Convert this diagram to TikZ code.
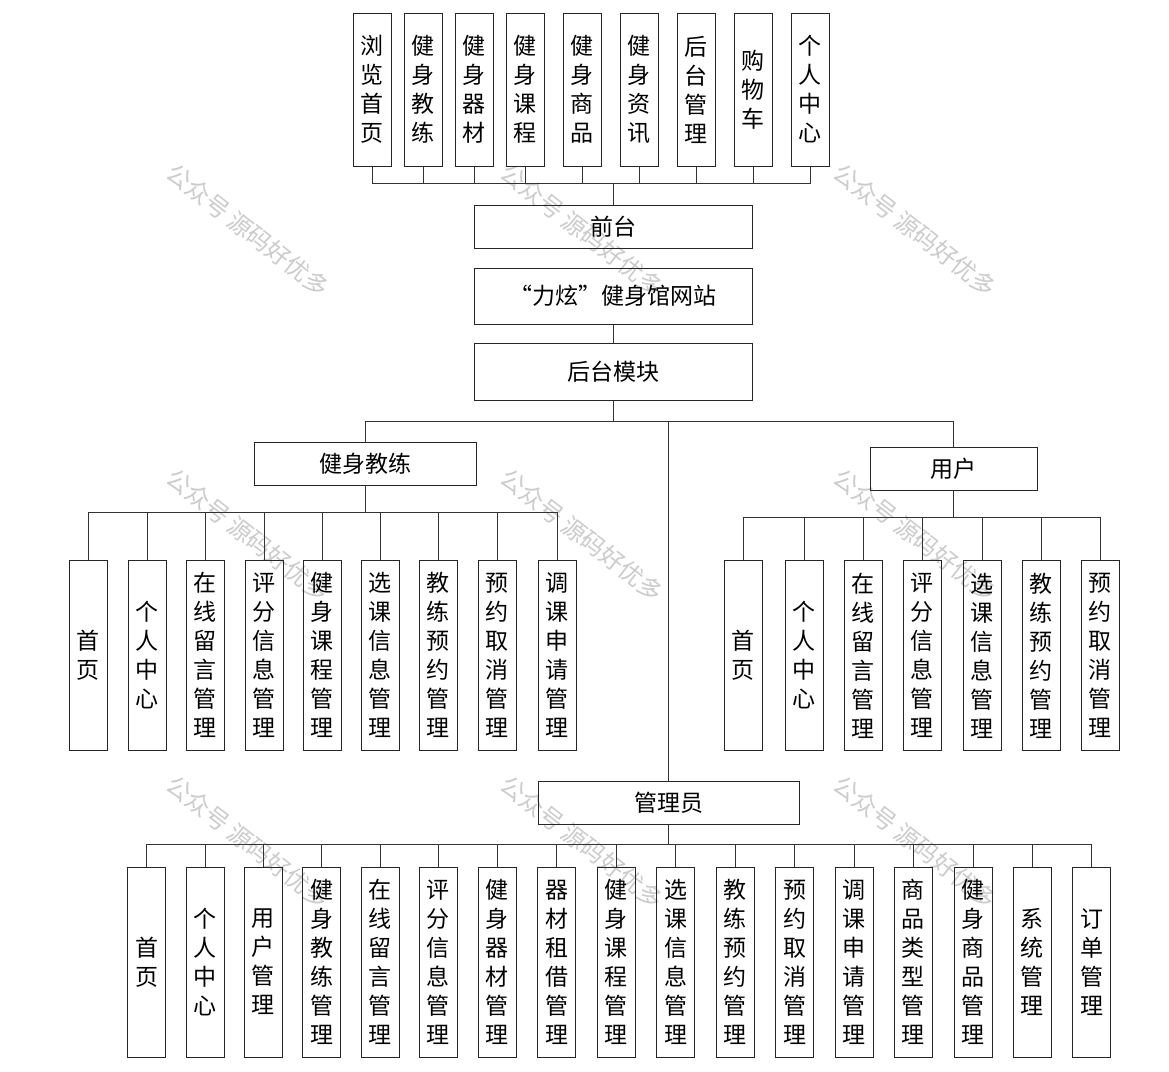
\documentclass[tikz,border=0pt]{standalone}
\usepackage{fontspec}
\newfontfamily\cjk{Noto Sans CJK SC}
\begin{document}
\begin{tikzpicture}[x=1pt,y=-1pt,
  every node/.style={font=\cjk\fontsize{23}{29}\selectfont, inner sep=0pt},
  hbox/.style={draw=black!85, line width=1pt, align=center},
  vbox/.style={draw=black!85, line width=1pt, align=center, minimum width=38pt},
  conn/.style={draw=black!80, line width=1pt},
  wm/.style={text=black!20, rotate=-38, font=\cjk\fontsize{24}{26}\selectfont}]
\useasboundingbox (0,0) rectangle (1169,1071);
\fill[white] (0,0) rectangle (1169,1071);
% watermarks
\foreach \wx in {248,582,915}{
  \foreach \wy in {230,535,842}{
    \node[wm] at (\wx,\wy) {公众号 源码好优多};
  }
}
% top level
\node[hbox, minimum width=278pt, minimum height=43pt] (qt) at (613,226.5) {前台};
\node[hbox, minimum width=278pt, minimum height=56pt] (site) at (613,296) {“力炫”健身馆网站};
\node[hbox, minimum width=278pt, minimum height=57pt] (bk) at (613,371.5) {后台模块};
% front children
\foreach \n/\x/\t in {t1/372/浏\\览\\首\\页, t2/423/健\\身\\教\\练, t3/474/健\\身\\器\\材, t4/525/健\\身\\课\\程, t5/582/健\\身\\商\\品, t6/639/健\\身\\资\\讯, t7/696/后\\台\\管\\理, t8/753/购\\物\\车, t9/810/个\\人\\中\\心}{
  \node[vbox, minimum height=153pt] (\n) at (\x,89.5) {\t};
}
\coordinate (topbus) at (613,183);
\foreach \n in {t1,t2,t3,t4,t5,t6,t7,t8,t9}{
  \draw[conn] (\n.south) |- (topbus);
}
\draw[conn] (topbus) -- (qt.north);
\draw[conn] (site.south) -- (bk.north);
% second level
\node[hbox, minimum width=222pt, minimum height=43pt] (coach) at (365,463.5) {健身教练};
\node[hbox, minimum width=167pt, minimum height=43pt] (user) at (953.5,468.5) {用户};
\node[hbox, minimum width=261pt, minimum height=43pt] (admin) at (668.5,802.5) {管理员};
\coordinate (mb) at (613,421);
\draw[conn] (bk.south) -- (mb);
\draw[conn] (coach.north) |- (mb);
\draw[conn] (user.north) |- (mb);
\draw[conn] (admin.north) -- (admin.north |- mb);
% coach children
\coordinate (cbus) at (365,512);
\foreach \n/\x/\t in {c1/88/首\\页, c2/147/个\\人\\中\\心, c3/205/在\\线\\留\\言\\管\\理, c4/264/评\\分\\信\\息\\管\\理, c5/322/健\\身\\课\\程\\管\\理, c6/380/选\\课\\信\\息\\管\\理, c7/438/教\\练\\预\\约\\管\\理, c8/497/预\\约\\取\\消\\管\\理, c9/557/调\\课\\申\\请\\管\\理}{
  \node[vbox, minimum height=190pt] (\n) at (\x,655) {\t};
  \draw[conn] (\n.north) |- (cbus);
}
\draw[conn] (coach.south) -- (cbus);
% user children
\coordinate (ubus) at (953.5,517);
\foreach \n/\x/\t in {u1/743/首\\页, u2/804/个\\人\\中\\心, u3/863/在\\线\\留\\言\\管\\理, u4/922/评\\分\\信\\息\\管\\理, u5/982/选\\课\\信\\息\\管\\理, u6/1041/教\\练\\预\\约\\管\\理, u7/1100/预\\约\\取\\消\\管\\理}{
  \node[vbox, minimum height=190pt] (\n) at (\x,655.5) {\t};
  \draw[conn] (\n.north) |- (ubus);
}
\draw[conn] (user.south) -- (ubus);
% admin children
\coordinate (abus) at (668.5,844);
\foreach \n/\x/\t in {a1/146.5/首\\页, a2/205/个\\人\\中\\心, a3/263/用\\户\\管\\理, a4/321.5/健\\身\\教\\练\\管\\理, a5/380/在\\线\\留\\言\\管\\理, a6/438/评\\分\\信\\息\\管\\理, a7/497/健\\身\\器\\材\\管\\理, a8/556.5/器\\材\\租\\借\\管\\理, a9/616/健\\身\\课\\程\\管\\理, a10/675.5/选\\课\\信\\息\\管\\理, a11/735/教\\练\\预\\约\\管\\理, a12/794.5/预\\约\\取\\消\\管\\理, a13/854/调\\课\\申\\请\\管\\理, a14/913/商\\品\\类\\型\\管\\理, a15/973/健\\身\\商\\品\\管\\理, a16/1032/系\\统\\管\\理, a17/1091.5/订\\单\\管\\理}{
  \node[vbox, minimum height=190pt] (\n) at (\x,962) {\t};
  \draw[conn] (\n.north) |- (abus);
}
\draw[conn] (admin.south) -- (abus);
\end{tikzpicture}
\end{document}
